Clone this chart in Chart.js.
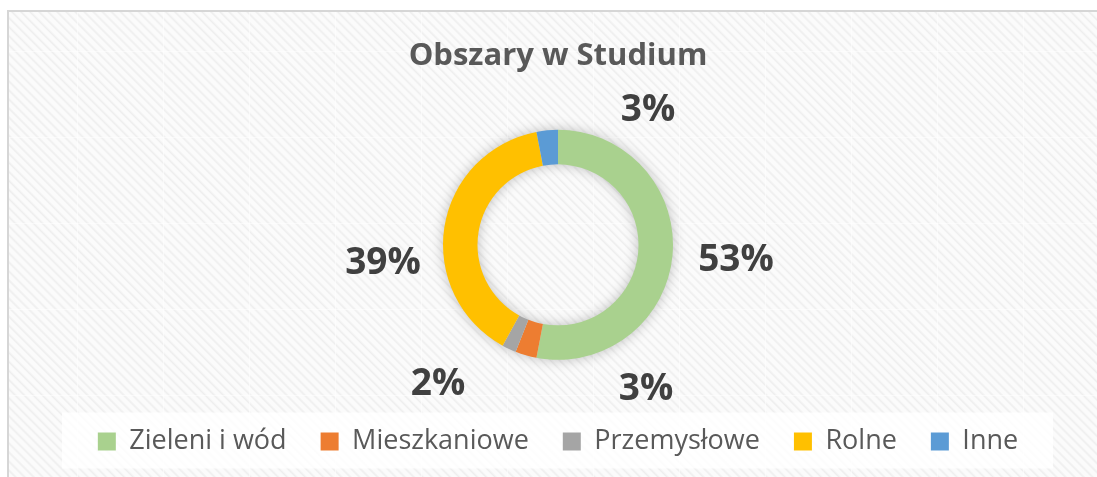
<!DOCTYPE html>
<html>
<head>
<meta charset="utf-8">
<script src="https://cdn.jsdelivr.net/npm/chart.js@4.4.1/dist/chart.umd.min.js"></script>
<style>
  html, body { margin: 0; padding: 0; background: #fff; overflow: hidden; width: 1097px; height: 477px; }
  #box {
    position: absolute; left: 7px; top: 10px; width: 1098px; height: 465px;
    border-left: 2px solid #d6d6d6; border-top: 2px solid #d6d6d6;
    background:
      linear-gradient(to right, rgba(255,255,255,.55) 1px, transparent 1px) 68px 0 / 86px 86px,
      linear-gradient(to bottom, rgba(255,255,255,.55) 1px, transparent 1px) 0 39px / 86px 86px,
      repeating-linear-gradient(45deg, #fbfbfb 0px, #fbfbfb 3px, #eeeeee 4.5px, #fbfbfb 6.4px);
  }
  #c { display: block; }
</style>
</head>
<body>
<div id="box"><canvas id="c" width="1098" height="465"></canvas></div>
<script>
// Obszary w Studium — udział poszczególnych rodzajów terenów
const categories = ['Zieleni i wód', 'Mieszkaniowe', 'Przemysłowe', 'Rolne', 'Inne'];
const values = [53, 3, 2, 39, 3];
const colors = ['#A9D18E', '#ED7D31', '#A5A5A5', '#FFC000', '#5B9BD5'];
// przesunięcia etykiet względem środka pierścienia (ręcznie ułożone jak w Excelu)
const labelOffsets = [[178, 26], [88, 155], [-120, 150], [-175, 29], [90, -124]];

const FONT = '"Open Sans", "DejaVu Sans", sans-serif';

// cień pod pierścieniem
const ringShadow = {
  id: 'ringShadow',
  beforeDatasetsDraw(chart) {
    const arc = chart.getDatasetMeta(0).data[0];
    if (!arc) return;
    const { x, y, outerRadius, innerRadius } = arc.getProps(['x', 'y', 'outerRadius', 'innerRadius'], true);
    const ctx = chart.ctx;
    ctx.save();
    ctx.shadowColor = 'rgba(0,0,0,0.28)';
    ctx.shadowBlur = 14;
    ctx.fillStyle = '#ddd';
    ctx.beginPath();
    ctx.arc(x, y, outerRadius - 1, 0, Math.PI * 2);
    ctx.arc(x, y, innerRadius + 1, 0, Math.PI * 2, true);
    ctx.fill();
    ctx.restore();
  }
};

// białe tło legendy
const legendBg = {
  id: 'legendBg',
  beforeDraw(chart) {
    const hb = chart.legend && chart.legend.legendHitBoxes;
    if (!hb || !hb.length) return;
    const cy = hb[0].top + hb[0].height / 2;
    const ctx = chart.ctx;
    ctx.save();
    ctx.fillStyle = 'rgba(255,255,255,0.82)';
    ctx.fillRect(chart.width / 2 - 496, cy - 29, 991, 56);
    ctx.restore();
  }
};

// etykiety procentowe
const pctLabels = {
  id: 'pctLabels',
  afterDatasetsDraw(chart) {
    const ctx = chart.ctx;
    const total = values.reduce((a, b) => a + b, 0);
    ctx.save();
    ctx.font = 'bold 37px ' + FONT;
    ctx.fillStyle = '#404040';
    ctx.textAlign = 'center';
    ctx.textBaseline = 'alphabetic';
    chart.getDatasetMeta(0).data.forEach((arc, i) => {
      const pct = Math.round(values[i] / total * 100) + '%';
      ctx.fillText(pct, arc.x + labelOffsets[i][0], arc.y + labelOffsets[i][1]);
    });
    ctx.restore();
  }
};

new Chart(document.getElementById('c'), {
  type: 'doughnut',
  data: {
    labels: categories,
    datasets: [{ data: values, backgroundColor: colors, borderWidth: 0, hoverOffset: 0 }]
  },
  options: {
    responsive: false,
    animation: false,
    radius: 115,
    cutout: '70%',
    layout: { padding: { bottom: 12 } },
    plugins: {
      title: {
        display: true, text: 'Obszary w Studium', color: '#595959',
        font: { family: FONT, size: 31, weight: 'bold', lineHeight: 1.2 },
        padding: { top: 26, bottom: 20.5 }
      },
      legend: {
        position: 'bottom',
        labels: {
          color: '#595959', boxWidth: 18, boxHeight: 18, padding: 34,
          font: { family: FONT, size: 27 }
        }
      },
      tooltip: { enabled: false }
    }
  },
  plugins: [ringShadow, legendBg, pctLabels]
});
</script>
</body>
</html>
